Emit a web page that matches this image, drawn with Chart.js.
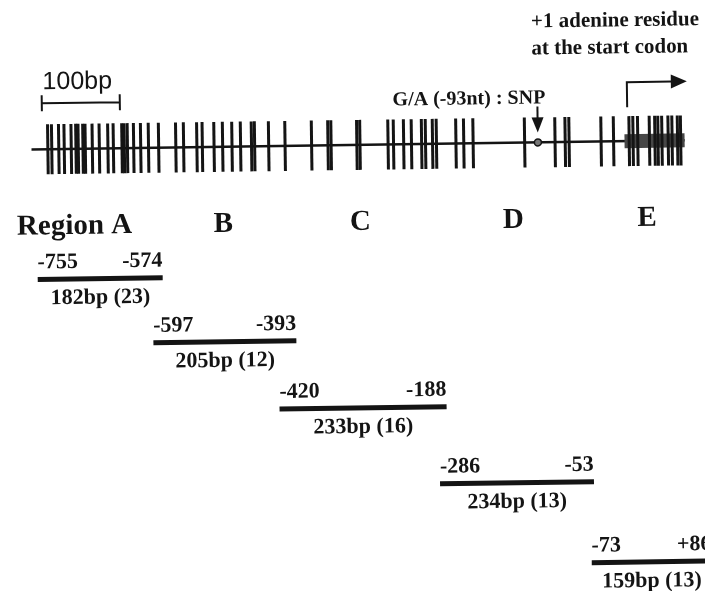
<!DOCTYPE html>
<html>
<head>
<meta charset="utf-8">
<script src="https://cdn.jsdelivr.net/npm/chart.js@4.4.1/dist/chart.umd.min.js"></script>
<style>
  html, body { margin: 0; padding: 0; background: #fff; overflow: hidden; }
  #wrap { width: 705px; height: 591px; position: relative; }
</style>
</head>
<body>
<div id="wrap"><canvas id="myChart"></canvas></div>
<script>
// CpG sites on the promoter map (bp, +1 = adenine of the start codon)
const cpgSites = [-742, -737, -728, -721, -712, -706, -703, -697, -694, -685, -676, -665, -658,
  -647, -644, -640, -632, -623, -613, -600, -578, -568, -551, -544, -529, -518, -506, -495,
  -481, -477, -459, -438, -404, -383, -379, -346, -342, -306, -299, -286, -276, -263, -258,
  -249, -244, -219, -209, -197, -131, -92, -79, -74, -33, -17, 3, 8, 14, 29, 36, 40, 45,
  53, 58, 65, 69]
const mapLine = [-763, 74]
const codingBox = [-3, 74]
const snpSite = -114 // where the G/A (-93nt) SNP is drawn on the map
const startSite = 1
const scaleBar = [-749, -649]
const snpLabel = 'G/A (-93nt) : SNP'
const startLabel = ['+1 adenine residue', 'at the start codon']

// amplified regions
const regionNames = ['Region A', 'B', 'C', 'D', 'E']
const regionStart = [-755, -597, -420, -286, -73]
const regionEnd = [-574, -393, -188, -53, 86]
const regionSize = [182, 205, 233, 234, 159]
const regionCpG = [23, 12, 16, 13, 13]

// layout: vertical track positions and each row's drawing window (schematic, not to scale)
const mapY = 145
const regionY = [275, 340, 408, 485, 566]
const regionWindow = [[-810, 211], [-815, 191], [-806, 173], [-948, 119], [-852, 82]]
const tilt = -0.8 * Math.PI / 180 // the scanned figure sits slightly tilted

const ink = '#141414'
const fmt = v => (v > 0 ? '+' + v : String(v))

const datasets = [
  {
    // CpG ticks
    data: cpgSites.map(x => ({ x, y: mapY })),
    xAxisID: 'xm',
    pointStyle: 'line',
    pointRotation: 90,
    pointRadius: 25,
    pointBorderWidth: 3,
    pointBorderColor: ink,
    showLine: false,
    order: 0,
  },
  {
    // SNP spot
    data: [{ x: snpSite, y: mapY }],
    xAxisID: 'xm',
    pointStyle: 'circle',
    pointRadius: 3.5,
    pointBackgroundColor: '#777',
    pointBorderColor: ink,
    pointBorderWidth: 1.5,
    showLine: false,
    order: 0,
  },
  {
    // coding sequence box
    data: codingBox.map(x => ({ x, y: mapY })),
    xAxisID: 'xm',
    showLine: true,
    borderColor: '#474747',
    borderWidth: 14,
    pointRadius: 0,
    order: 1,
  },
  {
    // promoter line
    data: mapLine.map(x => ({ x, y: mapY })),
    xAxisID: 'xm',
    showLine: true,
    borderColor: ink,
    borderWidth: 2.5,
    pointRadius: 0,
    order: 2,
  },
]

regionNames.forEach((name, i) => {
  datasets.push({
    data: [{ x: regionStart[i], y: regionY[i] }, { x: regionEnd[i], y: regionY[i] }],
    xAxisID: 'r' + i,
    showLine: true,
    borderColor: ink,
    borderWidth: 5,
    pointRadius: 0,
    order: 0,
  })
})

const scales = {
  x: { display: false },
  xm: { type: 'linear', axis: 'x', display: false, min: -806, max: 97.4 },
  y: { type: 'linear', display: false, min: 0, max: 591, reverse: true },
}
regionWindow.forEach((w, i) => {
  scales['r' + i] = { type: 'linear', axis: 'x', display: false, min: w[0], max: w[1] }
})

// rotate the whole drawing a little, like the scan
const tiltPlugin = {
  id: 'tilt',
  beforeDatasetsDraw(chart) {
    const { ctx, width, height } = chart
    ctx.save()
    ctx.translate(width / 2, height / 2)
    ctx.rotate(tilt)
    ctx.translate(-width / 2, -height / 2)
  },
  afterDraw(chart) {
    chart.ctx.restore()
  },
}

// texts, arrows and the scale bar
const annotations = {
  id: 'annotations',
  afterDatasetsDraw(chart) {
    const { ctx } = chart
    const sc = chart.scales
    const xm = sc.xm
    const yPx = sc.y.getPixelForValue(mapY)
    ctx.save()
    ctx.fillStyle = ink
    ctx.strokeStyle = ink
    ctx.textBaseline = 'alphabetic'

    // 100bp scale bar
    const s0 = xm.getPixelForValue(scaleBar[0])
    const s1 = xm.getPixelForValue(scaleBar[1])
    const sy = yPx - 46
    ctx.lineWidth = 2
    ctx.beginPath()
    ctx.moveTo(s0, sy); ctx.lineTo(s1, sy)
    ctx.moveTo(s0, sy - 8); ctx.lineTo(s0, sy + 8)
    ctx.moveTo(s1, sy - 8); ctx.lineTo(s1, sy + 8)
    ctx.stroke()
    ctx.font = '25px "Liberation Sans"'
    ctx.textAlign = 'left'
    ctx.fillText((scaleBar[1] - scaleBar[0]) + 'bp', s0 + 1, yPx - 60)

    // SNP arrow
    const sx = xm.getPixelForValue(snpSite)
    ctx.beginPath()
    ctx.moveTo(sx, yPx - 36); ctx.lineTo(sx, yPx - 24)
    ctx.stroke()
    ctx.beginPath()
    ctx.moveTo(sx - 6, yPx - 25); ctx.lineTo(sx + 6, yPx - 25); ctx.lineTo(sx, yPx - 10)
    ctx.closePath(); ctx.fill()
    ctx.font = 'bold 20px "Liberation Serif"'
    ctx.textAlign = 'right'
    ctx.fillText(snpLabel, sx + 8, yPx - 39)

    // start codon bent arrow
    const ax = xm.getPixelForValue(startSite)
    ctx.beginPath()
    ctx.moveTo(ax, yPx - 34); ctx.lineTo(ax, yPx - 59); ctx.lineTo(ax + 45, yPx - 59)
    ctx.stroke()
    ctx.beginPath()
    ctx.moveTo(ax + 44, yPx - 66); ctx.lineTo(ax + 60, yPx - 59); ctx.lineTo(ax + 44, yPx - 52)
    ctx.closePath(); ctx.fill()
    ctx.font = 'bold 21px "Liberation Serif"'
    ctx.textAlign = 'left'
    ctx.fillText(startLabel[0], ax - 95, yPx - 115)
    ctx.fillText(startLabel[1], ax - 95, yPx - 88)

    // region bar labels
    const nameY = sc.y.getPixelForValue(regionY[0]) - 45
    regionNames.forEach((name, i) => {
      const xs = sc['r' + i]
      const x0 = xs.getPixelForValue(regionStart[i])
      const x1 = xs.getPixelForValue(regionEnd[i])
      const by = sc.y.getPixelForValue(regionY[i])
      ctx.font = 'bold 29px "Liberation Serif"'
      if (i === 0) {
        ctx.textAlign = 'left'
        ctx.fillText(name, x0 - 20, nameY)
      } else {
        ctx.textAlign = 'center'
        ctx.fillText(name, (x0 + x1) / 2, nameY)
      }
      ctx.font = 'bold 22px "Liberation Serif"'
      ctx.textAlign = 'left'
      ctx.fillText(fmt(regionStart[i]), x0, by - 11)
      ctx.textAlign = 'right'
      ctx.fillText(fmt(regionEnd[i]), x1, by - 11)
      ctx.textAlign = 'center'
      ctx.fillText(regionSize[i] + 'bp (' + regionCpG[i] + ')', (x0 + x1) / 2, by + 25)
    })
    ctx.restore()
  },
}

const myChart = new Chart(document.getElementById('myChart').getContext('2d'), {
  type: 'scatter',
  data: { datasets },
  options: {
    responsive: true,
    maintainAspectRatio: false,
    animation: false,
    events: [],
    layout: { padding: 0, autoPadding: false },
    plugins: { legend: { display: false }, tooltip: { enabled: false } },
    scales,
  },
  plugins: [tiltPlugin, annotations],
})
</script>
</body>
</html>
